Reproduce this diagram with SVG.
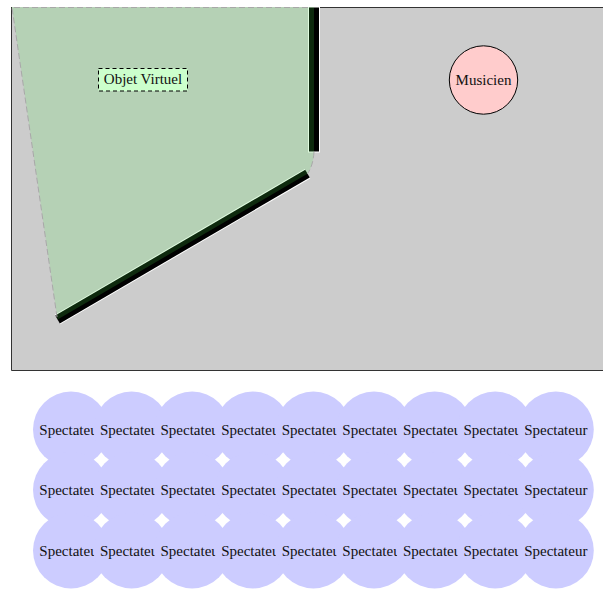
<svg xmlns="http://www.w3.org/2000/svg" width="603" height="589" viewBox="0 0 603 589">
<style>
text{font-family:"Liberation Serif","Times New Roman",serif;font-size:15px;fill:#111;text-anchor:middle}
.spec{fill:#ccccff}
.wall-o{stroke:#ffffff;fill:none}
.wall{stroke:#000000;fill:none}
.zone-edge{fill:none;stroke:#a8a8a8;stroke-width:1;stroke-dasharray:6,3}
</style>
<g id="scene">
<rect x="11.5" y="7" width="600" height="363.5" fill="#cccccc"/>
<path d="M320,7.5 H612 M11.5,7 V370.5 H612" fill="none" stroke="#333333" stroke-width="1"/>
</g>
<g id="walls">
<line class="wall-o" x1="314" y1="7" x2="314" y2="152.5" stroke-width="12"/>
<line class="wall" x1="314" y1="7.5" x2="314" y2="151.5" stroke-width="10"/>
<line class="wall-o" x1="57.5" y1="319.5" x2="307.5" y2="173.7" stroke-width="11"/>
<line class="wall" x1="57.5" y1="319.5" x2="307.5" y2="173.7" stroke-width="9"/>
</g>
<g id="zone">
<path d="M12,7 L314,7 L314,152 Q313,166 307.5,173.7 L57.5,319.5 Z" fill="rgb(80,232,80)" fill-opacity="0.18"/>
<path class="zone-edge" d="M308,7.5 L12,7.5 L57,317 M314,152 Q313,166 307.5,173.7"/>
</g>
<g id="objet-virtuel">
<rect x="98.5" y="68.5" width="89" height="22.5" fill="#ccffcc" stroke="#000" stroke-width="1" stroke-dasharray="4,3"/>
<text x="143" y="84">Objet Virtuel</text>
</g>
<g id="musicien">
<circle cx="483.5" cy="80" r="34.2" fill="#ffcccc" stroke="#000" stroke-width="1"/>
<text x="483.5" y="85">Musicien</text>
</g>
<g id="spectateurs">
<g id="s1-1"><circle class="spec" cx="71" cy="429.5" r="38"/><text x="71" y="434.5">Spectateur</text></g>
<g id="s1-2"><circle class="spec" cx="131.6" cy="429.5" r="38"/><text x="131.6" y="434.5">Spectateur</text></g>
<g id="s1-3"><circle class="spec" cx="192.2" cy="429.5" r="38"/><text x="192.2" y="434.5">Spectateur</text></g>
<g id="s1-4"><circle class="spec" cx="252.8" cy="429.5" r="38"/><text x="252.8" y="434.5">Spectateur</text></g>
<g id="s1-5"><circle class="spec" cx="313.4" cy="429.5" r="38"/><text x="313.4" y="434.5">Spectateur</text></g>
<g id="s1-6"><circle class="spec" cx="374" cy="429.5" r="38"/><text x="374" y="434.5">Spectateur</text></g>
<g id="s1-7"><circle class="spec" cx="434.6" cy="429.5" r="38"/><text x="434.6" y="434.5">Spectateur</text></g>
<g id="s1-8"><circle class="spec" cx="495.2" cy="429.5" r="38"/><text x="495.2" y="434.5">Spectateur</text></g>
<g id="s1-9"><circle class="spec" cx="555.8" cy="429.5" r="38"/><text x="555.8" y="434.5">Spectateur</text></g>
<g id="s2-1"><circle class="spec" cx="71" cy="490" r="38"/><text x="71" y="495">Spectateur</text></g>
<g id="s2-2"><circle class="spec" cx="131.6" cy="490" r="38"/><text x="131.6" y="495">Spectateur</text></g>
<g id="s2-3"><circle class="spec" cx="192.2" cy="490" r="38"/><text x="192.2" y="495">Spectateur</text></g>
<g id="s2-4"><circle class="spec" cx="252.8" cy="490" r="38"/><text x="252.8" y="495">Spectateur</text></g>
<g id="s2-5"><circle class="spec" cx="313.4" cy="490" r="38"/><text x="313.4" y="495">Spectateur</text></g>
<g id="s2-6"><circle class="spec" cx="374" cy="490" r="38"/><text x="374" y="495">Spectateur</text></g>
<g id="s2-7"><circle class="spec" cx="434.6" cy="490" r="38"/><text x="434.6" y="495">Spectateur</text></g>
<g id="s2-8"><circle class="spec" cx="495.2" cy="490" r="38"/><text x="495.2" y="495">Spectateur</text></g>
<g id="s2-9"><circle class="spec" cx="555.8" cy="490" r="38"/><text x="555.8" y="495">Spectateur</text></g>
<g id="s3-1"><circle class="spec" cx="71" cy="550.5" r="38"/><text x="71" y="555.5">Spectateur</text></g>
<g id="s3-2"><circle class="spec" cx="131.6" cy="550.5" r="38"/><text x="131.6" y="555.5">Spectateur</text></g>
<g id="s3-3"><circle class="spec" cx="192.2" cy="550.5" r="38"/><text x="192.2" y="555.5">Spectateur</text></g>
<g id="s3-4"><circle class="spec" cx="252.8" cy="550.5" r="38"/><text x="252.8" y="555.5">Spectateur</text></g>
<g id="s3-5"><circle class="spec" cx="313.4" cy="550.5" r="38"/><text x="313.4" y="555.5">Spectateur</text></g>
<g id="s3-6"><circle class="spec" cx="374" cy="550.5" r="38"/><text x="374" y="555.5">Spectateur</text></g>
<g id="s3-7"><circle class="spec" cx="434.6" cy="550.5" r="38"/><text x="434.6" y="555.5">Spectateur</text></g>
<g id="s3-8"><circle class="spec" cx="495.2" cy="550.5" r="38"/><text x="495.2" y="555.5">Spectateur</text></g>
<g id="s3-9"><circle class="spec" cx="555.8" cy="550.5" r="38"/><text x="555.8" y="555.5">Spectateur</text></g>
</g>
</svg>
